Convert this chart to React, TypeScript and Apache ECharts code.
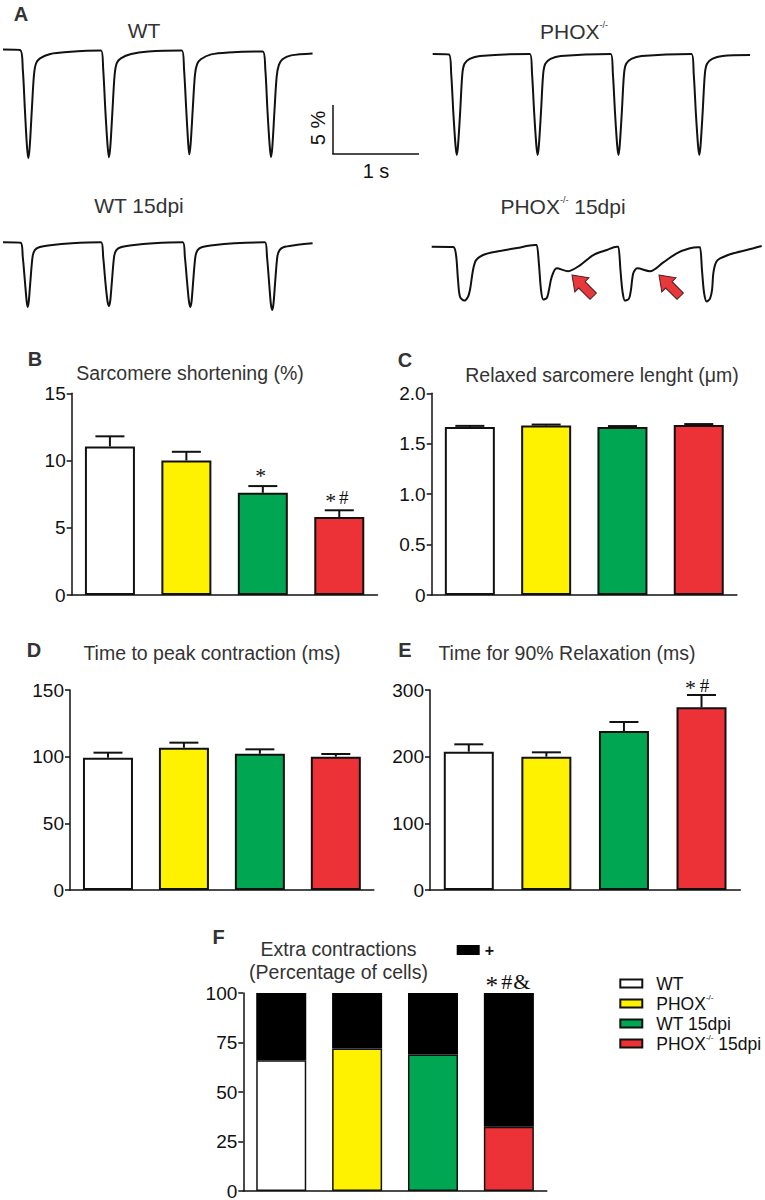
import React, { useEffect, useRef } from 'react';
import * as echarts from 'echarts';

const FONT = '"Liberation Sans", Arial, Helvetica, sans-serif';
const SERIF = '"Liberation Serif", "Times New Roman", serif';

// Groups (shared by all panels)
const groups = ['WT', 'PHOX-/-', 'WT 15dpi', 'PHOX-/- 15dpi'];
const groupColors = ['#ffffff', '#fff200', '#00a651', '#ec3237'];

// Panel A: sarcomere length traces, [time (s), shortening (%)]
const traceWT = [
  [0, 0], [0.2, -0.05], [0.23, -2.0], [0.255, -6.2], [0.278, -9.8], [0.294, -11.1], [0.31, -10.0], [0.335, -6.2], [0.36, -2.6], [0.385, -1.4], [0.43, -0.9], [0.55, -0.45], [0.75, -0.25],
  [1.14, -0.1], [1.165, -2.0], [1.19, -6.2], [1.215, -9.7], [1.232, -11.0], [1.248, -9.9], [1.273, -6.2], [1.298, -2.6], [1.323, -1.4], [1.37, -0.9], [1.49, -0.45], [1.69, -0.2],
  [2.08, -0.1], [2.105, -2.0], [2.13, -6.0], [2.152, -9.4], [2.166, -10.7], [2.182, -9.6], [2.207, -6.0], [2.232, -2.6], [2.257, -1.5], [2.3, -1.0], [2.42, -0.5], [2.62, -0.3],
  [3.02, -0.2], [3.05, -2.0], [3.075, -6.2], [3.1, -9.7], [3.116, -11.0], [3.132, -9.9], [3.157, -6.2], [3.182, -2.8], [3.207, -1.6], [3.25, -1.0], [3.35, -0.6], [3.6, -0.4],
];
const tracePHOX = [
  [0, 0], [0.19, -0.05], [0.215, -2.0], [0.24, -6.0], [0.265, -9.3], [0.28, -10.3], [0.295, -9.3], [0.32, -5.8], [0.345, -2.0], [0.37, -1.0], [0.43, -0.5], [0.55, -0.2],
  [1.13, 0], [1.155, -2.0], [1.18, -6.0], [1.205, -9.3], [1.22, -10.3], [1.235, -9.3], [1.26, -5.8], [1.285, -2.0], [1.31, -1.0], [1.37, -0.5], [1.49, -0.2],
  [2.07, 0], [2.095, -2.0], [2.12, -6.0], [2.145, -9.3], [2.16, -10.3], [2.175, -9.3], [2.2, -5.8], [2.225, -2.0], [2.25, -1.0], [2.31, -0.5], [2.43, -0.2],
  [3.01, 0], [3.035, -2.0], [3.06, -6.0], [3.085, -9.3], [3.1, -10.3], [3.115, -9.3], [3.14, -5.8], [3.165, -2.0], [3.19, -1.0], [3.25, -0.5], [3.37, -0.2], [3.69, -0.1],
];
const traceWT15 = [
  [0, 0], [0.205, -0.05], [0.23, -1.5], [0.255, -4.0], [0.275, -6.0], [0.287, -6.6], [0.3, -6.0], [0.32, -3.8], [0.345, -1.4], [0.37, -0.8], [0.42, -0.5], [0.55, -0.3], [0.8, -0.1],
  [1.14, 0], [1.165, -1.5], [1.19, -4.0], [1.215, -6.0], [1.233, -6.5], [1.248, -5.9], [1.268, -3.8], [1.293, -1.4], [1.318, -0.8], [1.37, -0.5], [1.5, -0.3], [1.75, -0.1],
  [2.09, 0], [2.115, -1.5], [2.14, -4.0], [2.162, -6.0], [2.178, -6.6], [2.193, -6.0], [2.213, -3.8], [2.238, -1.4], [2.263, -0.8], [2.31, -0.5], [2.44, -0.3], [2.69, -0.1],
  [3.045, 0], [3.07, -1.5], [3.095, -4.2], [3.115, -6.3], [3.131, -6.9], [3.146, -6.2], [3.166, -3.9], [3.191, -1.4], [3.216, -0.8], [3.26, -0.5], [3.39, -0.3], [3.6, -0.1],
];
const tracePHOX15 = [
  [0, 0], [0.25, -0.03], [0.283, -0.85], [0.306, -3.4], [0.329, -5.1], [0.379, -5.5], [0.422, -5.1], [0.445, -4.4], [0.503, -1.6], [0.597, -0.85], [0.794, -0.44], [0.992, -0.13], [1.2, 0.17],
  [1.221, 0.17], [1.248, -1.9], [1.271, -4.4], [1.298, -5.4], [1.34, -5.2], [1.364, -4.4], [1.395, -3.1], [1.453, -2.2], [1.588, -2.5], [1.724, -1.9], [1.879, -0.85], [2.035, -0.34], [2.151, 0],
  [2.17, 0], [2.195, -2.4], [2.219, -4.6], [2.248, -5.5], [2.294, -5.3], [2.317, -4.4], [2.344, -2.7], [2.391, -2.2], [2.538, -2.5], [2.693, -1.6], [2.849, -0.67], [3.003, -0.16], [3.1, -0.06],
  [3.12, -0.06], [3.143, -2.4], [3.167, -4.7], [3.198, -5.6], [3.236, -5.3], [3.26, -4.4], [3.275, -2.7], [3.306, -1.6], [3.353, -1.2], [3.508, -0.67], [3.663, -0.34], [3.837, 0.07],
];

// Panel B: sarcomere shortening (%)
const shorteningMean = [11.05, 10.0, 7.6, 5.8];
const shorteningSem = [0.75, 0.65, 0.5, 0.5];
const shorteningSig = ['', '', '*', '*#'];
const shorteningTicks = [0, 5, 10, 15];
// Panel C: relaxed sarcomere length (um)
const restLengthMean = [1.665, 1.68, 1.665, 1.685];
const restLengthSem = [0.012, 0.01, 0.01, 0.01];
const restLengthTicks = [0, 0.5, 1.0, 1.5, 2.0];
// Panel D: time to peak contraction (ms)
const ttpMean = [99.2, 106.7, 102.2, 100.0];
const ttpSem = [3.8, 3.8, 3.3, 2.0];
const ttpTicks = [0, 50, 100, 150];
// Panel E: time to 90% relaxation (ms)
const t90Mean = [207.5, 200.0, 238.5, 274.0];
const t90Sem = [11.0, 6.5, 13.5, 18.5];
const t90Sig = ['', '', '', '*#'];
const t90Ticks = [0, 100, 200, 300];
// Panel F: extra contractions (% of cells)
const extraNone = [66, 72, 69, 32.5];
const extraPlus = [34, 28, 31, 67.5];
const extraSig = ['', '', '', '*#&'];
const extraTicks = [0, 25, 50, 75, 100];

const INK = '#111';

function tAlign(align: string, v: string) {
  return { align, verticalAlign: v, textAlign: align, textVerticalAlign: v };
}

function errSeries(grid: number, means: number[], sems: number[] | null, sig: string[] | null, o: any) {
  return {
    type: 'custom',
    xAxisIndex: grid,
    yAxisIndex: grid,
    silent: true,
    z: 6,
    data: means.map((m, i) => [i, m, sems ? sems[i] : 0]),
    renderItem: (params: any, api: any) => {
      const i = api.value(0);
      const m = api.value(1);
      const e = api.value(2);
      const base = api.coord([i, m]);
      const top = api.coord([i, m + e]);
      const children: any[] = [];
      if (e > 0) {
        children.push({ type: 'line', shape: { x1: base[0], y1: base[1], x2: top[0], y2: top[1] }, style: { stroke: INK, lineWidth: 2 } });
        children.push({ type: 'line', shape: { x1: top[0] - 14.5, y1: top[1], x2: top[0] + 14.5, y2: top[1] }, style: { stroke: INK, lineWidth: 2 } });
      }
      const s = sig ? sig[params.dataIndex] : '';
      if (s) {
        const chars = s.split('');
        const n = chars.length;
        chars.forEach((c, k) => {
          children.push({
            type: 'text',
            x: top[0] + (k - (n - 1) / 2) * o.spacing + (o.dx || 0),
            y: top[1] - o.gap + (c === '*' ? o.size * 0.17 : 0),
            style: { text: c, fontSize: c === '*' ? o.size * 1.15 : o.size, fontFamily: SERIF, fill: INK, ...tAlign('center', 'middle') },
          });
        });
      }
      return { type: 'group', children };
    },
  };
}

function txt(x: number, y: number, text: string, size: number, extra: any = {}) {
  return {
    type: 'text',
    x,
    y,
    rotation: extra.rotation || 0,
    silent: true,
    style: {
      text,
      fontSize: size,
      fontFamily: FONT,
      fontWeight: extra.bold ? 'bold' : 'normal',
      fill: extra.color || '#333',
      ...tAlign(extra.align || 'center', 'middle'),
      rich: {
        sup: { fontSize: 9, fontFamily: FONT, fill: extra.color || '#333', verticalAlign: 'top', lineHeight: 9 },
      },
    },
  };
}

function arrow(x: number, y: number) {
  return {
    type: 'polygon',
    x,
    y,
    rotation: Math.PI / 4,
    silent: true,
    shape: { points: [[0, 0], [10, 14], [4.5, 14], [4.5, 30], [-4.5, 30], [-4.5, 14], [-10, 14]] },
    style: { fill: '#e8383d', stroke: '#4a2020', lineWidth: 1 },
  };
}

export default function App() {
  const ref = useRef<HTMLDivElement>(null);
  useEffect(() => {
    if (!ref.current) return;
    const chart = echarts.init(ref.current, null, { renderer: 'svg' });

    const traceGrids = [
      { left: 3, top: 39.7, width: 313.9, height: 127.4, xMax: 3.65, yMin: -12, yMax: 1, data: traceWT },
      { left: 432.7, top: 44.2, width: 318.2, height: 127.4, xMax: 3.7, yMin: -12, yMax: 1, data: tracePHOX },
      { left: 3, top: 232.5, width: 313.9, height: 88.2, xMax: 3.65, yMin: -8, yMax: 1, data: traceWT15 },
      { left: 431.7, top: 236.9, width: 331.1, height: 78.4, xMax: 3.85, yMin: -7, yMax: 1, data: tracePHOX15 },
    ];
    const barGrids = [
      { left: 71.7, top: 393.3, width: 305.8, height: 201.7, ticks: shorteningTicks, fmt: (v: number) => String(v) },
      { left: 431.7, top: 393.3, width: 305.2, height: 201.7, ticks: restLengthTicks, fmt: (v: number) => (v === 0 ? '0' : v.toFixed(1)) },
      { left: 70, top: 690, width: 303.8, height: 200, ticks: ttpTicks, fmt: (v: number) => String(v) },
      { left: 430, top: 690, width: 310.3, height: 200, ticks: t90Ticks, fmt: (v: number) => String(v) },
      { left: 243.3, top: 993, width: 303.5, height: 198, ticks: extraTicks, fmt: (v: number) => String(v) },
    ];

    const grid: any[] = [];
    const xAxis: any[] = [];
    const yAxis: any[] = [];
    const series: any[] = [];

    traceGrids.forEach((g, idx) => {
      grid.push({ left: g.left, top: g.top, width: g.width, height: g.height, outerBoundsMode: 'none' });
      xAxis.push({ type: 'value', gridIndex: idx, min: 0, max: g.xMax, show: false });
      yAxis.push({ type: 'value', gridIndex: idx, min: g.yMin, max: g.yMax, show: false });
      series.push({
        type: 'line',
        xAxisIndex: idx,
        yAxisIndex: idx,
        data: g.data,
        showSymbol: false,
        smooth: 0.3,
        silent: true,
        lineStyle: { color: INK, width: 2 },
      });
    });

    const axisLineStyle = { color: INK, width: 1.5 };
    barGrids.forEach((g, k) => {
      const idx = k + 4;
      const t = g.ticks;
      grid.push({ left: g.left, top: g.top, width: g.width, height: g.height, outerBoundsMode: 'none' });
      xAxis.push({
        type: 'category',
        gridIndex: idx,
        data: groups,
        axisLine: { show: true, lineStyle: axisLineStyle },
        axisTick: { show: false },
        axisLabel: { show: false },
        splitLine: { show: false },
      });
      yAxis.push({
        type: 'value',
        gridIndex: idx,
        min: t[0],
        max: t[t.length - 1],
        interval: t[1] - t[0],
        axisLine: { show: true, lineStyle: axisLineStyle },
        axisTick: { show: true, length: 5, inside: false, lineStyle: axisLineStyle },
        axisLabel: { fontSize: 19, lineHeight: 16, color: INK, fontFamily: FONT, margin: 6, formatter: g.fmt },
        splitLine: { show: false },
      });
    });

    const barPanels = [
      { grid: 4, name: 'Sarcomere shortening', mean: shorteningMean, sem: shorteningSem, sig: shorteningSig, o: { size: 19, spacing: 13, gap: 13, dx: -2 } },
      { grid: 5, name: 'Relaxed sarcomere lenght', mean: restLengthMean, sem: restLengthSem, sig: null, o: { size: 19, spacing: 11, gap: 12 } },
      { grid: 6, name: 'Time to peak contraction', mean: ttpMean, sem: ttpSem, sig: null, o: { size: 19, spacing: 11, gap: 12 } },
      { grid: 7, name: 'Time for 90% Relaxation', mean: t90Mean, sem: t90Sem, sig: t90Sig, o: { size: 19, spacing: 14, gap: 10, dx: -4 } },
    ];
    barPanels.forEach((p) => {
      series.push({
        type: 'bar',
        name: p.name,
        xAxisIndex: p.grid,
        yAxisIndex: p.grid,
        barWidth: 50,
        silent: true,
        itemStyle: { borderColor: INK, borderWidth: 2 },
        data: p.mean.map((v, i) => ({ value: v, itemStyle: { color: groupColors[i] } })),
      });
      series.push(errSeries(p.grid, p.mean, p.sem, p.sig, p.o));
    });

    groups.forEach((name, i) => {
      series.push({
        type: 'bar',
        name,
        xAxisIndex: 8,
        yAxisIndex: 8,
        stack: 'extra',
        barWidth: 50,
        silent: true,
        itemStyle: { color: groupColors[i], borderColor: INK, borderWidth: 1.5 },
        data: extraNone.map((v, j) => (j === i ? v : '-')),
      });
    });
    series.push({
      type: 'bar',
      name: '+',
      xAxisIndex: 8,
      yAxisIndex: 8,
      stack: 'extra',
      barWidth: 50,
      silent: true,
      itemStyle: { color: '#000', borderColor: '#000', borderWidth: 1.5 },
      data: extraPlus,
    });
    series.push(errSeries(8, extraNone.map((v, i) => v + extraPlus[i]), null, extraSig, { size: 22, spacing: 15, gap: 12, dx: -2 }));

    const graphic: any[] = [
      // panel A
      txt(21, 14, 'A', 20, { bold: true }),
      txt(144, 30, 'WT', 21),
      txt(574, 31, 'PHOX{sup|-/-}', 21),
      txt(139, 205, 'WT 15dpi', 21),
      txt(563, 206, 'PHOX{sup|-/-} 15dpi', 21),
      { type: 'line', silent: true, shape: { x1: 333, y1: 105, x2: 333, y2: 154 }, style: { stroke: INK, lineWidth: 1.5 } },
      { type: 'line', silent: true, shape: { x1: 332.25, y1: 154, x2: 419, y2: 154 }, style: { stroke: INK, lineWidth: 1.5 } },
      txt(318, 128, '5 %', 20, { rotation: Math.PI / 2, color: INK }),
      txt(376, 171, '1 s', 20, { color: INK }),
      arrow(572, 275),
      arrow(659, 275),
      // panel labels and titles
      txt(35, 359, 'B', 20, { bold: true }),
      txt(190, 373, 'Sarcomere shortening (%)', 19.5),
      txt(405, 360, 'C', 20, { bold: true }),
      txt(602, 375, 'Relaxed sarcomere lenght (μm)', 19.5),
      txt(34, 650, 'D', 20, { bold: true }),
      txt(212, 653, 'Time to peak contraction (ms)', 19.5),
      txt(405, 650, 'E', 20, { bold: true }),
      txt(567, 653, 'Time for 90% Relaxation (ms)', 19.5),
      txt(218.5, 937, 'F', 20, { bold: true }),
      txt(338.5, 949, 'Extra contractions', 19.5),
      txt(338.5, 972, '(Percentage of cells)', 19.5),
    ];

    chart.setOption({
      animation: false,
      backgroundColor: '#ffffff',
      grid,
      xAxis,
      yAxis,
      series,
      graphic,
      legend: [
        {
          orient: 'vertical',
          left: 619.3,
          top: 973.5,
          padding: 0,
          data: groups,
          icon: 'rect',
          itemWidth: 22,
          itemHeight: 8,
          itemGap: 0,
          selectedMode: false,
          itemStyle: { borderColor: INK, borderWidth: 2 },
          formatter: (name: string) => name.replace('-/-', '{sup|-/-}'),
          textStyle: {
            fontSize: 17.5,
            lineHeight: 20,
            color: INK,
            fontFamily: FONT,
            padding: [0, 0, 0, 9],
            rich: { sup: { fontSize: 8, lineHeight: 9, color: INK, fontFamily: FONT, verticalAlign: 'top' } },
          },
        },
        {
          left: 456.7,
          top: 941,
          padding: 0,
          data: ['+'],
          icon: 'rect',
          itemWidth: 23,
          itemHeight: 10,
          selectedMode: false,
          itemStyle: { borderColor: '#000', borderWidth: 0 },
          textStyle: { fontSize: 16, lineHeight: 18, color: INK, fontFamily: FONT, fontWeight: 'bold' },
        },
      ],
    });

    return () => chart.dispose();
  }, []);

  return (
    <div
      ref={ref}
      style={{ position: 'absolute', left: 0, top: 0, width: 765, height: 1200, background: '#fff' }}
    />
  );
}
